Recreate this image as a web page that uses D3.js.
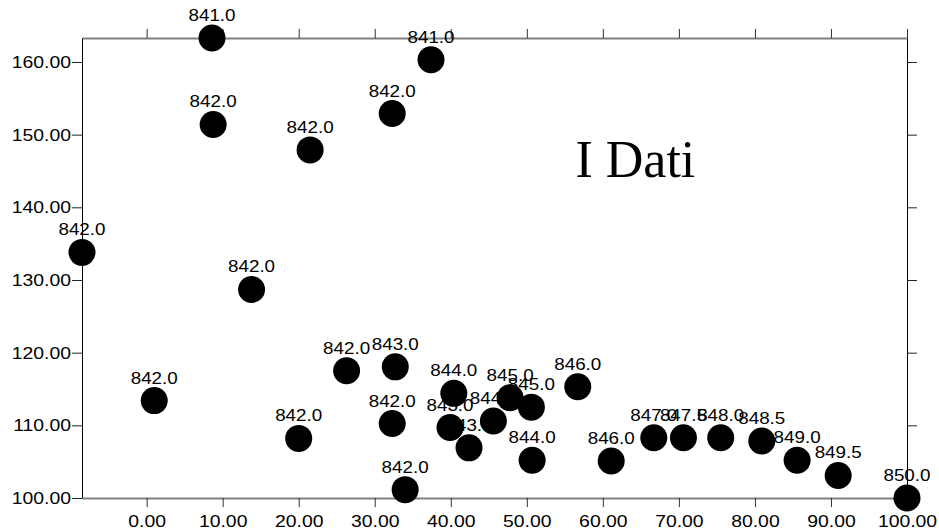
<!DOCTYPE html>
<html>
<head>
<meta charset="utf-8">
<script src="https://cdn.jsdelivr.net/npm/d3@7"></script>
<style>
  body { margin: 0; background: #fff; }
  svg { display: block; font-family: "Liberation Sans", Arial, sans-serif; }
</style>
</head>
<body>
<svg id="chart"></svg>
<script>
// point positions (x, y) and the value printed above each point
const xValues = [8.6, 37.4, 8.75, 21.5, 32.3, -8.5, 13.8, 1.0, 20.0, 26.3, 32.7, 32.3, 34.0,
    40.4, 39.9, 42.4, 45.6, 47.8, 50.6, 56.7, 50.7, 61.1, 66.7, 70.6, 75.5, 80.9, 85.55, 90.95, 100];
const yValues = [163.3, 160.3, 151.4, 147.9, 152.9, 133.8, 128.7, 113.4, 108.2, 117.5, 118.05, 110.25, 101.15,
    114.4, 109.7, 106.9, 110.6, 113.8, 112.5, 115.3, 105.2, 105.1, 108.3, 108.3, 108.3, 107.85, 105.2, 103.1, 100];
const labels = [841.0, 841.0, 842.0, 842.0, 842.0, 842.0, 842.0, 842.0, 842.0, 842.0, 843.0, 842.0, 842.0,
    844.0, 843.0, 843.5, 844.5, 845.0, 845.0, 846.0, 844.0, 846.0, 847.0, 847.5, 848.0, 848.5, 849.0, 849.5, 850.0];

const xTicks = [0, 10, 20, 30, 40, 50, 60, 70, 80, 90, 100];
const yTicks = [100, 110, 120, 130, 140, 150, 160];
const title = "I Dati";
const titlePos = [56.4, 144.2];

const width = 939;
const height = 532;
const margin = { top: 38, right: 32, bottom: 34, left: 82 };
const stretch = 1.14; // text in the picture is a bit wider than the font

const svg = d3.select("#chart")
    .attr("width", width)
    .attr("height", height);

const x = d3.scaleLinear()
    .domain(d3.extent(xValues))
    .range([margin.left, width - margin.right]);

const y = d3.scaleLinear()
    .domain(d3.extent(yValues))
    .range([height - margin.bottom, margin.top]);

const fmt = d3.format(".2f");

function widen(sel) {
    sel.each(function () {
        const len = this.getComputedTextLength();
        d3.select(this)
            .attr("textLength", len * stretch)
            .attr("lengthAdjust", "spacingAndGlyphs");
    });
}

// bottom axis
const gx = svg.append("g")
    .attr("transform", `translate(0,${height - margin.bottom})`)
    .call(d3.axisBottom(x).tickValues(xTicks).tickFormat(fmt).tickSize(9).tickSizeOuter(0).tickPadding(8));
gx.select(".domain").attr("stroke", "#808080").attr("stroke-width", 2);
gx.selectAll(".tick line").attr("stroke", "#333");
gx.selectAll(".tick text").style("font-size", "17px").attr("fill", "#000").call(widen);

// top axis
const gt = svg.append("g")
    .attr("transform", `translate(0,${margin.top})`)
    .call(d3.axisTop(x).tickValues(xTicks).tickFormat("").tickSize(9).tickSizeOuter(0));
gt.select(".domain").attr("stroke", "#808080").attr("stroke-width", 2);
gt.selectAll(".tick line").attr("stroke", "#333");

// left axis
const gy = svg.append("g")
    .attr("transform", `translate(${margin.left},0)`)
    .call(d3.axisLeft(y).tickValues(yTicks).tickFormat(fmt).tickSize(10).tickSizeOuter(0).tickPadding(1));
gy.select(".domain").attr("stroke", "#000");
gy.selectAll(".tick line").attr("stroke", "#222");
gy.selectAll(".tick text").style("font-size", "17px").attr("fill", "#000").call(widen);

// right axis
const gr = svg.append("g")
    .attr("transform", `translate(${width - margin.right},0)`)
    .call(d3.axisRight(y).tickValues(yTicks).tickFormat("").tickSize(10).tickSizeOuter(0));
gr.select(".domain").attr("stroke", "#000");
gr.selectAll(".tick line").attr("stroke", "#222");

// points
const points = xValues.map((d, i) => ({ x: d, y: yValues[i], label: labels[i] }));

svg.append("g")
    .selectAll("circle")
    .data(points)
    .enter()
    .append("circle")
    .attr("cx", d => x(d.x))
    .attr("cy", d => y(d.y))
    .attr("r", 13.5)
    .attr("fill", "#000");

svg.append("g")
    .selectAll("text")
    .data(points)
    .enter()
    .append("text")
    .attr("x", d => x(d.x))
    .attr("y", d => y(d.y) - 17)
    .attr("text-anchor", "middle")
    .style("font-size", "16.5px")
    .attr("fill", "#000")
    .text(d => d.label.toFixed(1))
    .call(widen);

svg.append("text")
    .attr("x", x(titlePos[0]))
    .attr("y", y(titlePos[1]))
    .style("font-family", "'Liberation Serif', 'Times New Roman', serif")
    .style("font-size", "52px")
    .attr("fill", "#000")
    .text(title);
</script>
</body>
</html>
